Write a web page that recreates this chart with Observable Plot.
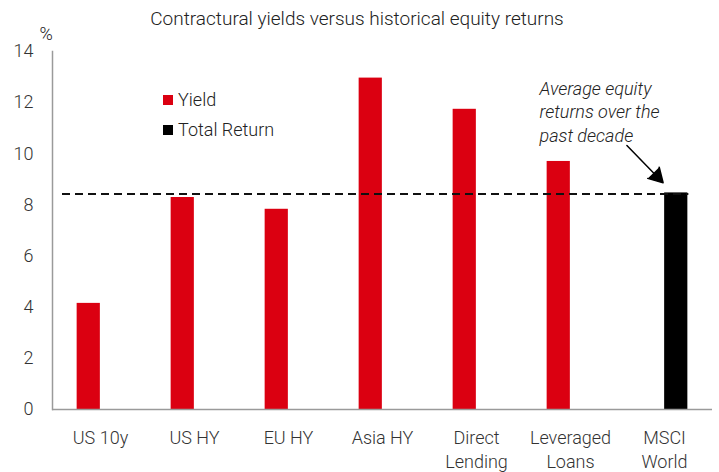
<!DOCTYPE html>
<html><head><meta charset="utf-8">
<script src="https://cdn.jsdelivr.net/npm/d3@7"></script>
<script src="https://cdn.jsdelivr.net/npm/@observablehq/plot@0.6"></script>
<style>
body{margin:0;background:#fff;font-family:Roboto, "Liberation Sans", sans-serif;}
#chart{position:relative;width:719px;height:472px;overflow:hidden;}
#title{position:absolute;left:0;top:9px;width:714px;text-align:center;font-size:19px;line-height:19px;font-weight:300;color:#222;}
.leg{position:absolute;left:163px;font-size:18px;font-weight:300;color:#222;line-height:20px;display:flex;align-items:center;}
.leg span.sw{display:inline-block;width:10px;height:10px;margin-right:5px;}
</style></head><body><div id="chart"></div>
<script>
const categories = ["US 10y","US HY","EU HY","Asia HY","Direct Lending","Leveraged Loans","MSCI World"];
const tickLabels = ["US 10y","US HY","EU HY","Asia HY","Direct\nLending","Leveraged\nLoans","MSCI\nWorld"];
const seriesOf = ["Yield","Yield","Yield","Yield","Yield","Yield","Total Return"];
const values = [4.15, 8.29, 7.83, 12.96, 11.74, 9.70, 8.47];
const seriesNames = ["Yield","Total Return"];
const seriesColors = ["#db0011","#000000"];
const yTicks = [0,2,4,6,8,10,12,14];
const equityAverage = 8.43;
const titleText = "Contractural yields versus historical equity returns";
const unitLabel = "%";
const annotationText = "Average equity\nreturns over the\npast decade";
const annotationAt = {category: "MSCI World", value: 11.68};
const arrowFrom = {category: "Leveraged Loans", value: 12.6};
const arrowTo = {category: "MSCI World", value: 8.81};

const W = 719, H = 472, ML = 52, MR = 7, MT = 51, MB = 63;
const band = (W - ML - MR) / categories.length;
const barW = 23.5;
const data = categories.map((c, i) => ({category: c, series: seriesOf[i], value: values[i]}));
const labelOf = new Map(categories.map((c, i) => [c, tickLabels[i]]));
const colorOf = new Map(seriesNames.map((s, i) => [s, seriesColors[i]]));
const slot = new Map(seriesNames.map((s, i) => [s, i]));

const marks = [];
for (const s of seriesNames) {
  const k = slot.get(s);
  marks.push(Plot.barY(data.filter(d => d.series === s), {
    x: "category", y: "value", fill: colorOf.get(s),
    insetLeft: k === 0 ? band / 2 - barW : band / 2,
    insetRight: k === 0 ? band / 2 : band / 2 - barW
  }));
}
marks.push(
  Plot.ruleY([equityAverage], {stroke: "#111", strokeWidth: 2, strokeDasharray: "8,5", insetLeft: 10, insetRight: band / 2 - barW}),
  Plot.ruleY([0], {stroke: "#9a9a9a", strokeWidth: 1.5}),
  Plot.frame({anchor: "left", stroke: "#9a9a9a", strokeWidth: 1.5}),
  Plot.axisY({ticks: yTicks, tickSize: 0, tickPadding: 19, label: null, fontSize: 18, fill: "#333"}),
  Plot.axisX({tickSize: 0, tickPadding: 18, label: null, tickFormat: d => labelOf.get(d), lineHeight: 1.3, fontSize: 18, fill: "#333"}),
  Plot.text([unitLabel], {frameAnchor: "top-left", dx: -13, dy: -24, fontSize: 18, fill: "#222"}),
  Plot.text([annotationAt], {x: "category", y: "value", text: () => annotationText, dx: -125, textAnchor: "start", lineAnchor: "middle", lineHeight: 1.3, fontStyle: "italic", fontSize: 18, fill: "#222"}),
  Plot.arrow([{from: arrowFrom, to: arrowTo}], {
    x1: d => d.from.category, y1: d => d.from.value, x2: d => d.to.category, y2: d => d.to.value,
    insetStart: 81, insetEnd: 2, headLength: 16, headAngle: 60, strokeWidth: 1.5, stroke: "#000", fill: "#000", strokeLinejoin: "miter"
  })
);

const plot = Plot.plot({
  width: W, height: H, marginLeft: ML, marginRight: MR, marginTop: MT, marginBottom: MB,
  style: {fontFamily: "Roboto, 'Liberation Sans', sans-serif", fontSize: "18px", fontWeight: 300, background: "#fff", color: "#222"},
  x: {domain: categories, padding: 0, axis: null},
  y: {domain: [0, 14], axis: null},
  marks
});

const chart = document.getElementById("chart");
chart.appendChild(plot);
const t = document.createElement("div");
t.id = "title"; t.textContent = titleText; chart.appendChild(t);
seriesNames.forEach((s, i) => {
  const e = document.createElement("div");
  e.className = "leg";
  e.style.top = (90 + i * 30) + "px";
  const sw = document.createElement("span");
  sw.className = "sw"; sw.style.background = colorOf.get(s);
  e.appendChild(sw);
  e.appendChild(document.createTextNode(s));
  chart.appendChild(e);
});
</script></body></html>
